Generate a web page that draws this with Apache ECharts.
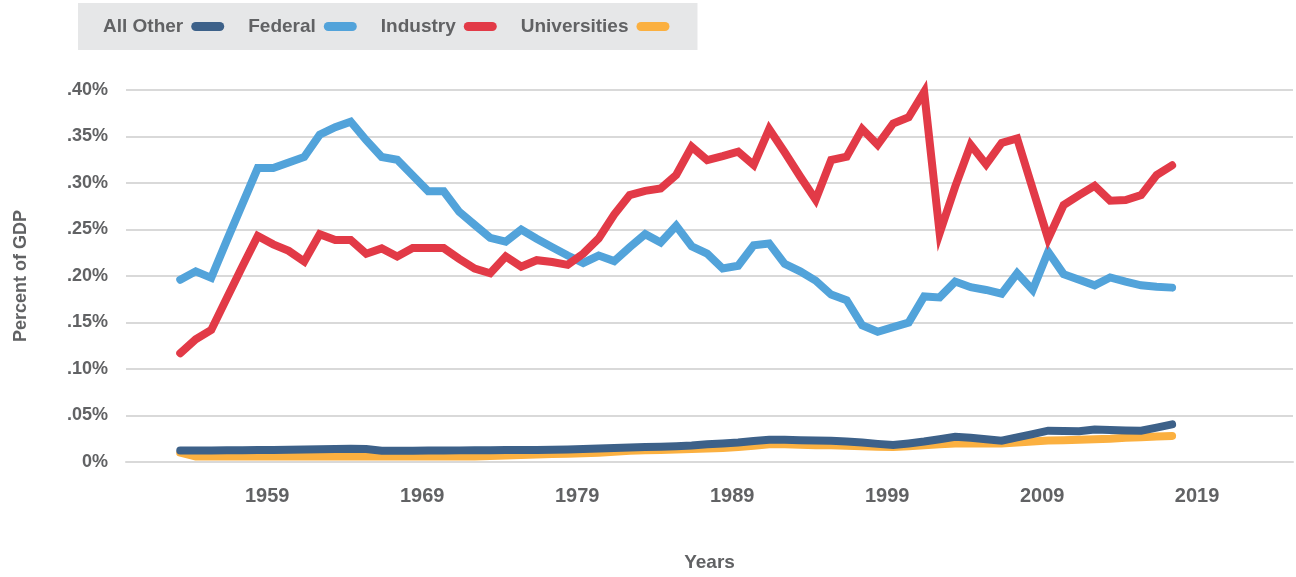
<!DOCTYPE html>
<html>
<head>
<meta charset="utf-8">
<title>Percent of GDP</title>
<script src="https://cdn.jsdelivr.net/npm/echarts@6/dist/echarts.min.js"></script>
<style>
  html, body { margin: 0; padding: 0; background: #fff; }
  #chart { width: 1296px; height: 577px; }
</style>
</head>
<body>
<div id="chart"></div>
<script>
// years plotted (one point per year)
const years = [
  1953, 1954, 1955, 1956, 1957, 1958, 1959, 1960, 1961, 1962,
  1963, 1964, 1965, 1966, 1967, 1968, 1969, 1970, 1971, 1972,
  1973, 1974, 1975, 1976, 1977, 1978, 1979, 1980, 1981, 1982,
  1983, 1984, 1985, 1986, 1987, 1988, 1989, 1990, 1991, 1992,
  1993, 1994, 1995, 1996, 1997, 1998, 1999, 2000, 2001, 2002,
  2003, 2004, 2005, 2006, 2007, 2008, 2009, 2010, 2011, 2012,
  2013, 2014, 2015, 2016, 2017
];

// values in percent of GDP
const allOther = [
  0.0125, 0.0125, 0.0125, 0.0126, 0.0127, 0.0128, 0.013, 0.0132, 0.0134, 0.0137,
  0.014, 0.0142, 0.014, 0.0122, 0.0122, 0.0122, 0.0123, 0.0124, 0.0125, 0.0126,
  0.0127, 0.0128, 0.0129, 0.013, 0.0132, 0.0135, 0.014, 0.0145, 0.015, 0.0155,
  0.016, 0.0165, 0.017, 0.0178, 0.019, 0.020, 0.021, 0.0225, 0.024, 0.0238,
  0.0235, 0.0232, 0.0229, 0.022, 0.021, 0.0195, 0.0183, 0.020, 0.022, 0.0245,
  0.0272, 0.026, 0.0245, 0.0229, 0.0265, 0.030, 0.0337, 0.0333, 0.033, 0.035,
  0.0345, 0.034, 0.0337, 0.037, 0.0405
];

const federal = [
  0.196, 0.205, 0.198, 0.238, 0.277, 0.316, 0.316, 0.322, 0.328, 0.352,
  0.360, 0.366, 0.346, 0.328, 0.325, 0.308, 0.291, 0.291, 0.269, 0.255,
  0.241, 0.237, 0.250, 0.240, 0.231, 0.222, 0.214, 0.222, 0.216, 0.231,
  0.245, 0.236, 0.254, 0.232, 0.224, 0.208, 0.211, 0.233, 0.235, 0.213,
  0.205, 0.195, 0.180, 0.174, 0.147, 0.140, 0.145, 0.150, 0.178, 0.177,
  0.194, 0.188, 0.185, 0.181, 0.203, 0.185, 0.226, 0.202, 0.196, 0.190,
  0.1985, 0.194, 0.190, 0.1885, 0.1875
];

const industry = [
  0.117, 0.132, 0.142, 0.176, 0.210, 0.243, 0.234, 0.227, 0.2155, 0.245,
  0.2387, 0.2387, 0.224, 0.2297, 0.221, 0.230, 0.230, 0.230, 0.2185, 0.208,
  0.203, 0.221, 0.210, 0.217, 0.215, 0.212, 0.224, 0.2405, 0.266, 0.287,
  0.2915, 0.294, 0.3086, 0.339, 0.3247, 0.329, 0.3337, 0.3194, 0.358, 0.333,
  0.307, 0.282, 0.3247, 0.3283, 0.358, 0.341, 0.364, 0.3706, 0.398, 0.246,
  0.296, 0.341, 0.320, 0.343, 0.348, 0.294, 0.240, 0.2763, 0.287, 0.297,
  0.281, 0.2817, 0.287, 0.3086, 0.319
];

const universities = [
  0.010, 0.006, 0.006, 0.006, 0.006, 0.006, 0.006, 0.006, 0.006, 0.006,
  0.006, 0.006, 0.006, 0.006, 0.006, 0.006, 0.006, 0.006, 0.006, 0.006,
  0.0065, 0.007, 0.0075, 0.008, 0.0085, 0.009, 0.0095, 0.010, 0.011, 0.012,
  0.0125, 0.013, 0.0135, 0.014, 0.0145, 0.015, 0.016, 0.0175, 0.019, 0.019,
  0.0185, 0.018, 0.018, 0.0175, 0.017, 0.0165, 0.016, 0.017, 0.018, 0.019,
  0.020, 0.020, 0.020, 0.020, 0.021, 0.022, 0.023, 0.0235, 0.024, 0.0245,
  0.025, 0.026, 0.0265, 0.0275, 0.028
];

const xTickLabels = [1959, 1969, 1979, 1989, 1999, 2009, 2019];

const FONT = '"Liberation Sans", Arial, sans-serif';
const TEXT = '#616264';

const pairs = vals => years.map((y, i) => [y, vals[i]]);

const line = (name, vals, color) => ({
  name,
  type: 'line',
  data: pairs(vals),
  symbol: 'none',
  clip: false,
  itemStyle: { color },
  lineStyle: { color, width: 8, cap: 'round', join: 'miter' },
  emphasis: { disabled: true }
});

const chart = echarts.init(document.getElementById('chart'));

chart.setOption({
  animation: false,
  textStyle: { fontFamily: FONT },
  legend: {
    data: ['All Other', 'Federal', 'Industry', 'Universities'],
    left: 78,
    top: 3,
    padding: [14, 28, 14, 25],
    backgroundColor: '#e6e7e8',
    align: 'right',
    itemGap: 24,
    itemWidth: 33,
    itemHeight: 9,
    icon: 'path://M4.5,0H28.5A4.5,4.5,0,0,1,28.5,9H4.5A4.5,4.5,0,0,1,4.5,0Z',
    textStyle: { color: TEXT, fontSize: 19, fontWeight: 'bold', fontFamily: FONT, padding: [0, 3, 0, 0] }
  },
  grid: { left: 126, right: 3, top: 90, bottom: 115 },
  xAxis: {
    type: 'value',
    min: 1949.5,
    max: 2024.8,
    name: 'Years',
    nameLocation: 'middle',
    nameGap: 91,
    nameTextStyle: { color: TEXT, fontSize: 19, fontWeight: 'bold', fontFamily: FONT },
    axisLine: { lineStyle: { color: '#d9d9d9', width: 2 } },
    axisTick: { show: false },
    splitLine: { show: false },
    axisLabel: {
      customValues: xTickLabels,
      formatter: v => String(v),
      margin: 24,
      padding: [0, 12, 0, 0],
      color: TEXT,
      fontSize: 20,
      fontWeight: 'bold',
      fontFamily: FONT
    }
  },
  yAxis: {
    type: 'value',
    min: 0,
    max: 0.4,
    interval: 0.05,
    name: 'Percent of GDP',
    nameLocation: 'middle',
    nameGap: 96,
    nameTextStyle: { color: TEXT, fontSize: 18, fontWeight: 'bold', fontFamily: FONT },
    axisLine: { show: false },
    axisTick: { show: false },
    splitLine: { lineStyle: { color: '#d9d9d9', width: 2 } },
    axisLabel: {
      margin: 18,
      color: TEXT,
      fontSize: 18,
      fontWeight: 'bold',
      fontFamily: FONT,
      formatter: v => v === 0 ? '0%' : '.' + String(Math.round(v * 100)).padStart(2, '0') + '%'
    }
  },
  // drawing order: universities under all other, industry over federal
  series: [
    line('Universities', universities, '#fbb040'),
    line('Federal', federal, '#52a3da'),
    line('Industry', industry, '#e23a47'),
    line('All Other', allOther, '#3d6189')
  ]
});

window.addEventListener('resize', () => chart.resize());
</script>
</body>
</html>
